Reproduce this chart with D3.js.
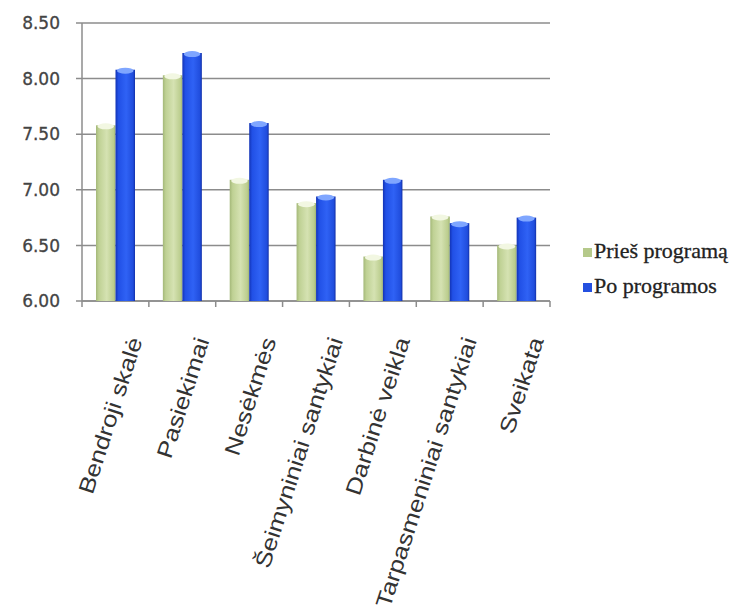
<!DOCTYPE html>
<html><head><meta charset="utf-8">
<script src="https://cdn.jsdelivr.net/npm/d3@7"></script>
<style>body{margin:0;background:#fff}svg{display:block}</style>
</head><body>
<svg id="c" width="734" height="613"></svg>
<script>
const categories = ["Bendroji skalė","Pasiekimai","Nesėkmės","Šeimyniniai santykiai","Darbinė veikla","Tarpasmeniniai santykiai","Sveikata"];
const seriesNames = ["Prieš programą","Po programos"];
const before = [7.58, 8.03, 7.09, 6.88, 6.40, 6.76, 6.50];
const after  = [8.08, 8.23, 7.60, 6.94, 7.09, 6.70, 6.75];
const yTicks = [6.0, 6.5, 7.0, 7.5, 8.0, 8.5];

const svg = d3.select("#c");
const defs = svg.append("defs");
function grad(id, stops){
  const g = defs.append("linearGradient").attr("id", id).attr("x1","0").attr("x2","1").attr("y1","0").attr("y2","0");
  stops.forEach(s=>g.append("stop").attr("offset",s[0]).attr("stop-color",s[1]));
}
grad("gG", [[0,"#a4b879"],[0.15,"#bfd194"],[0.55,"#d5e2b2"],[0.9,"#bbcd8e"],[1,"#9fb472"]]);
grad("gB", [[0,"#1233b5"],[0.15,"#2150e6"],[0.55,"#2f62f5"],[0.9,"#204ddd"],[1,"#1230a8"]]);
const fills = ["url(#gG)","url(#gB)"];
const caps = ["#f2f7e2","#7fa6ff"];
const legendCols = ["#b5c98a","#2450e0"];

const L = 82, R = 550, T = 23, B = 301;
const x = d3.scaleBand().domain(categories).range([L, R]).padding(0);
const y = d3.scaleLinear().domain([6, 8.5]).range([B, T]);
const x1 = d3.scaleBand().domain([0,1]).range([14, 53]).padding(0);

svg.append("g").selectAll("line").data(yTicks).join("line")
  .attr("x1", L-6).attr("x2", R).attr("y1", d=>y(d)).attr("y2", d=>y(d))
  .attr("stroke", "#8c8c8c").attr("stroke-width", 1.5);

svg.append("g").selectAll("text").data(yTicks).join("text")
  .attr("x", 60).attr("y", d=>y(d)).attr("dy","0.36em").attr("text-anchor","end")
  .attr("font-family","DejaVu Sans, Verdana, sans-serif").attr("font-size",17)
  .attr("fill","#444").attr("stroke","#444").attr("stroke-width",0.3).text(d=>d3.format(".2f")(d));

svg.append("line").attr("x1",L).attr("x2",L).attr("y1",T).attr("y2",B).attr("stroke","#8c8c8c").attr("stroke-width",1.5);
svg.append("line").attr("x1",L).attr("x2",R).attr("y1",B).attr("y2",B).attr("stroke","#8c8c8c").attr("stroke-width",1.5);
const bounds = categories.map(c=>x(c)).concat([R]);
svg.append("g").selectAll("line").data(bounds).join("line")
  .attr("x1",d=>d).attr("x2",d=>d).attr("y1",B).attr("y2",B+6).attr("stroke","#8c8c8c").attr("stroke-width",1.5);

const data = categories.map((c,i)=>({c, v:[before[i], after[i]]}));
const g = svg.append("g");
data.forEach(d=>{
  d.v.forEach((v,s)=>{
    const bx = x(d.c) + x1(s), bw = x1.bandwidth();
    g.append("rect").attr("x", bx).attr("y", y(v)).attr("width", bw).attr("height", B - y(v)).attr("fill", fills[s]);
    g.append("ellipse").attr("cx", bx + bw/2).attr("cy", y(v)+1).attr("rx", bw/2 - 1.5).attr("ry", 3).attr("fill", caps[s]);
  });
});

svg.append("g").selectAll("text").data(categories).join("text")
  .attr("transform", d=>`translate(${x(d)+x.bandwidth()/2+20},338) rotate(-72) scale(1.18,1)`)
  .attr("text-anchor","end").attr("dy","0.35em")
  .attr("font-family","Liberation Sans, Arial, sans-serif").attr("font-size",22)
  .attr("fill","#333").text(d=>d);

const lg = svg.append("g");
seriesNames.forEach((n,i)=>{
  const ly = 258 + i*35;
  lg.append("rect").attr("x",583).attr("y",ly-10).attr("width",9).attr("height",9).attr("fill",legendCols[i]);
  lg.append("text").attr("x",594).attr("y",ly).attr("font-family","Liberation Serif, Times New Roman, serif")
    .attr("font-size",22).attr("fill","#222").attr("stroke","#222").attr("stroke-width",0.3).text(n);
});
</script>
</body></html>
